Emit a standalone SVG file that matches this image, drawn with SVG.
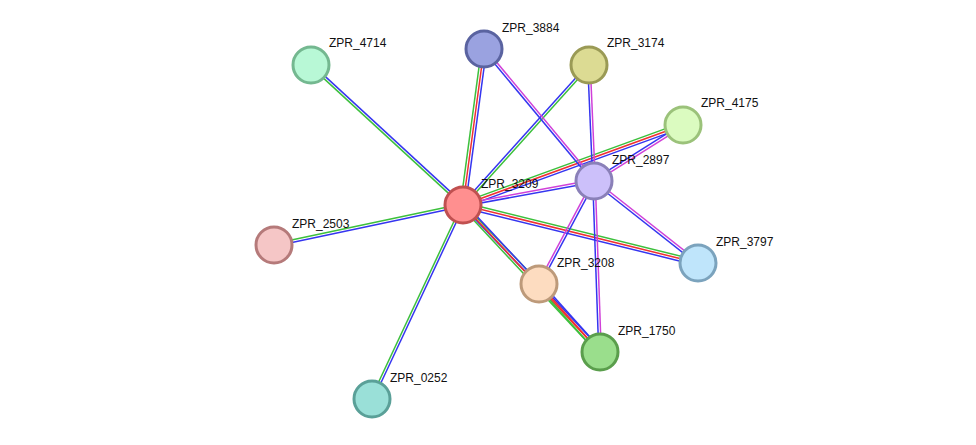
<svg xmlns="http://www.w3.org/2000/svg" width="976" height="445" viewBox="0 0 976 445">
<style>
.g{stroke:#3cc03c}.r{stroke:#f03030}.b{stroke:#3535f0}.m{stroke:#d040d8}
#edges line{stroke-width:1.5;fill:none}
.n circle{stroke-width:3}
text{font-family:"Liberation Sans",Arial,sans-serif;font-size:12px;fill:#111}
</style>
<rect width="976" height="445" fill="#fff"/>
<g id="edges">
<line class="g" x1="460.5" y1="204.7" x2="481.5" y2="48.7"/><line class="r" x1="463" y1="205" x2="484" y2="49"/><line class="b" x1="465.5" y1="205.3" x2="486.5" y2="49.3"/>
<line class="b" x1="462.05" y1="204.15" x2="588.05" y2="64.15"/><line class="g" x1="463.95" y1="205.85" x2="589.95" y2="65.85"/>
<line class="g" x1="462.15" y1="205.9" x2="310.15" y2="65.9"/><line class="b" x1="463.85" y1="204.1" x2="311.85" y2="64.1"/>
<line class="g" x1="462.15" y1="202.65" x2="682.15" y2="122.65"/><line class="r" x1="463" y1="205" x2="683" y2="125"/><line class="b" x1="463.85" y1="207.35" x2="683.85" y2="127.35"/>
<line class="m" x1="462.8" y1="203.8" x2="593.8" y2="179.8"/><line class="b" x1="463.2" y1="206.2" x2="594.2" y2="182.2"/>
<line class="g" x1="462.75" y1="203.8" x2="273.75" y2="243.8"/><line class="b" x1="463.25" y1="206.2" x2="274.25" y2="246.2"/>
<line class="g" x1="463.6" y1="202.6" x2="698.6" y2="260.6"/><line class="r" x1="463" y1="205" x2="698" y2="263"/><line class="b" x1="462.4" y1="207.4" x2="697.4" y2="265.4"/>
<line class="b" x1="462.1" y1="205.85" x2="538.1" y2="284.85"/><line class="g" x1="463.9" y1="204.15" x2="539.9" y2="283.15"/>
<line class="g" x1="461.2" y1="206.7" x2="598.2" y2="353.7"/><line class="r" x1="463" y1="205" x2="600" y2="352"/><line class="b" x1="464.8" y1="203.3" x2="601.8" y2="350.3"/>
<line class="g" x1="461.9" y1="204.5" x2="370.9" y2="398.5"/><line class="b" x1="464.1" y1="205.5" x2="373.1" y2="399.5"/>
<line class="b" x1="593.05" y1="181.8" x2="483.05" y2="49.8"/><line class="m" x1="594.95" y1="180.2" x2="484.95" y2="48.2"/>
<line class="b" x1="592.75" y1="181.05" x2="587.75" y2="65.05"/><line class="m" x1="595.25" y1="180.95" x2="590.25" y2="64.95"/>
<line class="b" x1="593.35" y1="179.95" x2="682.35" y2="123.95"/><line class="m" x1="594.65" y1="182.05" x2="683.65" y2="126.05"/>
<line class="b" x1="593.2" y1="182" x2="697.2" y2="264"/><line class="m" x1="594.8" y1="180" x2="698.8" y2="262"/>
<line class="m" x1="592.9" y1="180.4" x2="537.9" y2="283.4"/><line class="b" x1="595.1" y1="181.6" x2="540.1" y2="284.6"/>
<line class="b" x1="592.75" y1="181.05" x2="598.75" y2="352.05"/><line class="m" x1="595.25" y1="180.95" x2="601.25" y2="351.95"/>
<line class="g" x1="537.15" y1="285.7" x2="598.15" y2="353.7"/><line class="r" x1="539" y1="284" x2="600" y2="352"/><line class="b" x1="540.85" y1="282.3" x2="601.85" y2="350.3"/>
</g>
<g id="ZPR_4714" class="n"><circle cx="311" cy="65" r="18" fill="#b8f8d6" stroke="#74b890"/><text x="329" y="47">ZPR_4714</text></g>
<g id="ZPR_3884" class="n"><circle cx="484" cy="49" r="18" fill="#9aa2e0" stroke="#5a63a0"/><text x="502" y="32">ZPR_3884</text></g>
<g id="ZPR_3174" class="n"><circle cx="589" cy="65" r="18" fill="#dcdb93" stroke="#9a9a55"/><text x="607" y="47">ZPR_3174</text></g>
<g id="ZPR_4175" class="n"><circle cx="683" cy="125" r="18" fill="#dbfbc0" stroke="#9bc27a"/><text x="701" y="107">ZPR_4175</text></g>
<g id="ZPR_2897" class="n"><circle cx="594" cy="181" r="18" fill="#ccc0fa" stroke="#8a80b8"/><text x="612" y="164">ZPR_2897</text></g>
<g id="ZPR_3209" class="n"><circle cx="463" cy="205" r="18" fill="#ff8f8f" stroke="#c05050"/><text x="481" y="188">ZPR_3209</text></g>
<g id="ZPR_2503" class="n"><circle cx="274" cy="245" r="18" fill="#f5c6c6" stroke="#b57a7a"/><text x="292" y="228">ZPR_2503</text></g>
<g id="ZPR_3797" class="n"><circle cx="698" cy="263" r="18" fill="#bfe5fb" stroke="#7ba3bd"/><text x="716" y="246">ZPR_3797</text></g>
<g id="ZPR_3208" class="n"><circle cx="539" cy="284" r="18" fill="#fddcc0" stroke="#bd9a7a"/><text x="557" y="267">ZPR_3208</text></g>
<g id="ZPR_1750" class="n"><circle cx="600" cy="352" r="18" fill="#9ade8c" stroke="#5a9e4c"/><text x="618" y="335">ZPR_1750</text></g>
<g id="ZPR_0252" class="n"><circle cx="372" cy="399" r="18" fill="#9ae0d8" stroke="#5aa098"/><text x="390" y="382">ZPR_0252</text></g>
</svg>
